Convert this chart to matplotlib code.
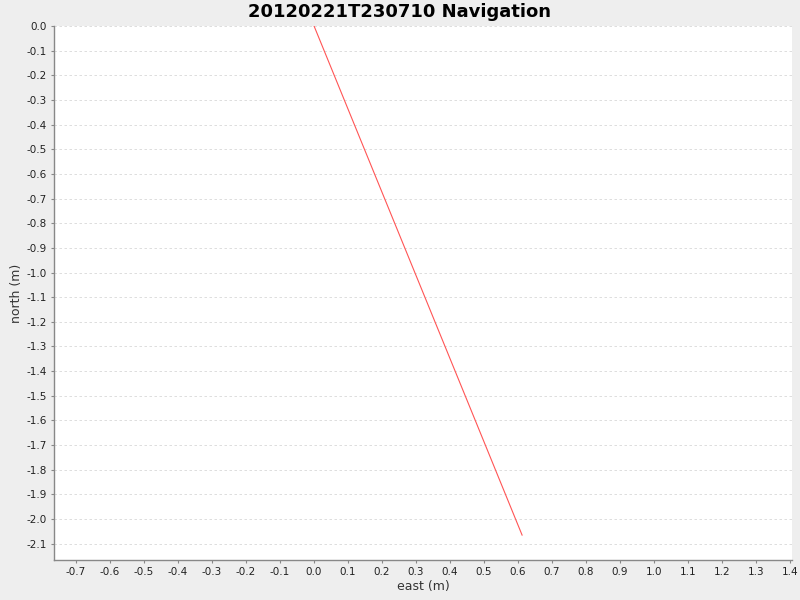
import numpy as np
import matplotlib
matplotlib.use("Agg")
import matplotlib.pyplot as plt

# track (metres)
east = [0.0, 0.15, 0.30, 0.45, 0.612]
north = [0.0, -0.506, -1.012, -1.518, -2.065]

xticks = np.round(np.arange(-0.7, 1.41, 0.1), 1)
yticks = np.round(np.arange(0.0, -2.11, -0.1), 1)

def fmt(v):
    return "%.1f" % (0.0 if abs(v) < 1e-9 else v)

fig = plt.figure(figsize=(8, 6), dpi=100, facecolor="#eeeeee")
ax = fig.add_axes([0.0675, 0.0667, 0.9225, 0.89])
ax.set_facecolor("white")

ax.plot(east, north, color="#ff5555", linewidth=0.8)

ax.set_xlim(-0.765, 1.406)
ax.set_ylim(-2.166, 0.0)
ax.set_xticks(xticks)
ax.set_xticklabels([fmt(v) for v in xticks])
ax.set_yticks(yticks)
ax.set_yticklabels([fmt(v) for v in yticks])

ax.yaxis.grid(True, color="#d8d8d8", linestyle=(0, (3, 3)), linewidth=0.6)
ax.xaxis.grid(False)

for s in ["top", "right"]:
    ax.spines[s].set_visible(False)
for s in ["left", "bottom"]:
    ax.spines[s].set_color("#888888")
    ax.spines[s].set_linewidth(1.0)

ax.tick_params(axis="both", labelsize=7.5, colors="#888888", labelcolor="#222222",
               length=2, width=0.8, pad=3)

ax.set_xlabel("east (m)", fontsize=9, color="#333333", labelpad=2)
ax.set_ylabel("north (m)", fontsize=9, color="#333333", labelpad=3)
fig.suptitle("20120221T230710 Navigation", x=0.5, y=0.995, fontsize=13,
             fontweight="bold", va="top")

fig.savefig("out.png", dpi=100, facecolor=fig.get_facecolor())
